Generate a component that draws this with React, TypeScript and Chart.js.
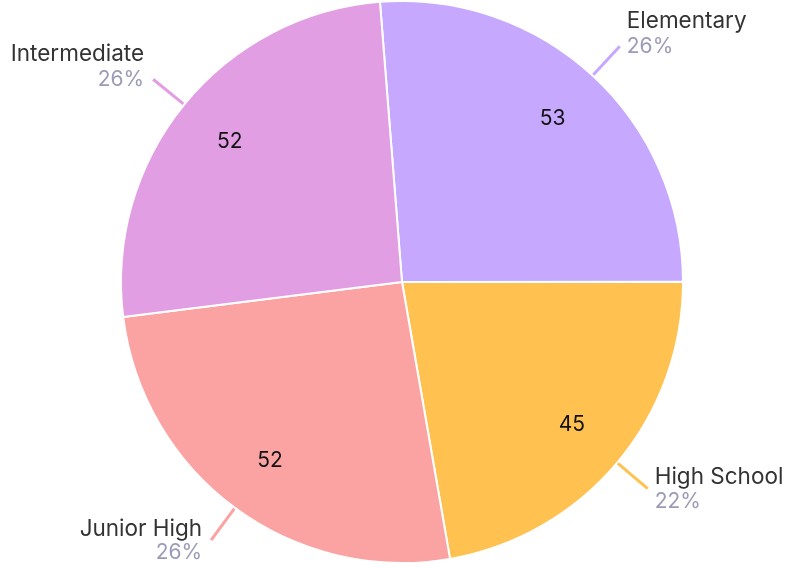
import React, { useEffect, useRef } from "react";
import { Chart, registerables } from "chart.js";

Chart.register(...registerables);

const categories = ["Elementary", "High School", "Junior High", "Intermediate"];
const values = [53, 45, 52, 52];
const colors = ["#C6A8FE", "#FFC150", "#FBA3A3", "#E29EE3"];

const FONT = "Inter, 'Noto Sans', sans-serif";

const labelPlugin = {
  id: "outerLabels",
  afterDatasetsDraw(chart: any) {
    const ctx = chart.ctx;
    const meta = chart.getDatasetMeta(0);
    const data = chart.data.datasets[0].data as number[];
    const total = data.reduce((a, b) => a + b, 0);
    meta.data.forEach((arc: any, i: number) => {
      const { x, y, startAngle, endAngle, outerRadius } = arc.getProps(
        ["x", "y", "startAngle", "endAngle", "outerRadius"],
        true
      );
      const mid = (startAngle + endAngle) / 2;
      const cos = Math.cos(mid);
      const sin = Math.sin(mid);
      // value inside
      ctx.save();
      ctx.fillStyle = "#111";
      ctx.font = `21px ${FONT}`;
      ctx.textAlign = "center";
      ctx.textBaseline = "middle";
      const vr = outerRadius * 0.79;
      ctx.fillText(String(data[i]), x + cos * vr, y + sin * vr);
      // leader line
      const r1 = outerRadius + 1;
      const r2 = outerRadius + 40;
      const ex = x + cos * r2;
      const ey = y + sin * r2;
      ctx.strokeStyle = colors[i];
      ctx.lineWidth = 3;
      ctx.beginPath();
      ctx.moveTo(x + cos * r1, y + sin * r1);
      ctx.lineTo(ex, ey);
      ctx.stroke();
      // text
      const right = cos >= 0;
      const tx = right ? ex + 7 : ex - 9;
      ctx.textAlign = right ? "left" : "right";
      let nameY, pctY;
      if (ey < y) {
        nameY = ey - 25;
        pctY = ey;
      } else {
        nameY = ey - 11;
        pctY = ey + 13;
      }
      ctx.fillStyle = "#333333";
      ctx.font = `22.5px ${FONT}`;
      ctx.fillText(categories[i], tx, nameY);
      ctx.fillStyle = "#9B9AB8";
      ctx.font = `21px ${FONT}`;
      ctx.fillText(Math.round((data[i] / total) * 100) + "%", tx, pctY);
      ctx.restore();
    });
  },
};

export default function App() {
  const ref = useRef<HTMLCanvasElement | null>(null);
  useEffect(() => {
    if (!ref.current) return;
    const chart = new Chart(ref.current, {
      type: "pie",
      data: {
        labels: categories,
        datasets: [
          {
            data: values,
            backgroundColor: colors,
            borderColor: "#ffffff",
            borderWidth: 2,
          },
        ],
      },
      options: {
        responsive: false,
        animation: false,
        rotation: -4.5,
        layout: { padding: { left: 14, right: 0, top: 0, bottom: 3 } },
        plugins: {
          legend: { display: false },
          tooltip: { enabled: false },
        },
      },
      plugins: [labelPlugin],
    });
    return () => chart.destroy();
  }, []);
  return (
    <div style={{ position: "absolute", left: 0, top: 0, width: 790, height: 567, background: "#fff" }}>
      <canvas ref={ref} width={790} height={567} />
    </div>
  );
}
